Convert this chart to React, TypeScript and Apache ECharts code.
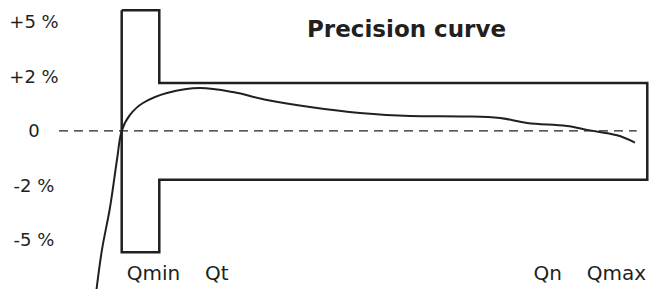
import React, { useEffect, useRef } from "react";
import * as echarts from "echarts";

// Axis ticks (y uses display levels: each level is one labelled step)
const yTickLevels = [-2, -1, 0, 1, 2];
const yTickLabels = ["-5 %", "-2 %", "0", "+2 %", "+5 %"];
const xTickValues = [16.0, 26.7, 82.7, 94.3];
const xTickLabels = ["Qmin", "Qt", "Qn", "Qmax"];

// Tolerance envelope (flow units, display levels)
const envelopeX = [10.61, 16.97, 16.97, 99.54, 99.54, 16.97, 16.97, 10.61, 10.61];
const envelopeLevel = [2.21, 2.21, 0.877, 0.877, -0.895, -0.895, -2.228, -2.228, 2.21];

// Zero reference line
const zeroX = [0, 97.75];
const zeroLevel = [0, 0];

// Precision curve
const curveX = [6.3, 7.28, 8.63, 9.86, 10.61, 12.01, 14.21, 18.27, 23.86, 29.44, 35.19, 42.47, 50.93, 59.39, 69.04, 74.62, 79.19, 85.96, 89.34, 94.42, 97.46];
const curveLevel = [-2.95, -2.174, -1.406, -0.493, 0, 0.292, 0.511, 0.694, 0.785, 0.712, 0.566, 0.438, 0.329, 0.274, 0.265, 0.237, 0.146, 0.091, 0.018, -0.082, -0.214];

const INK = "#231f20";
const FONT = "DejaVu Sans";

const zip = (xs: number[], ys: number[]) => xs.map((x, i) => [x, ys[i]]);

export default function App() {
  const ref = useRef<HTMLDivElement>(null);
  useEffect(() => {
    if (!ref.current) return;
    const chart = echarts.init(ref.current, undefined, { renderer: "svg" });
    chart.setOption({
      animation: false,
      backgroundColor: "#ffffff",
      title: {
        text: "Precision curve",
        left: 307,
        top: 17,
        padding: 0,
        textStyle: { fontFamily: FONT, fontSize: 23, fontWeight: "bold", color: INK },
      },
      grid: { left: 59, right: 0, top: 0, height: 290.2 },
      xAxis: {
        type: "value",
        min: 0,
        max: 100,
        axisLine: { show: false },
        axisTick: { show: false },
        splitLine: { show: false },
        axisLabel: {
          customValues: xTickValues,
          inside: true,
          margin: 6,
          fontFamily: FONT,
          fontSize: 20,
          color: INK,
          formatter: (v: number) => {
            const i = xTickValues.findIndex((t) => Math.abs(t - v) < 1e-6);
            return i >= 0 ? xTickLabels[i] : "";
          },
        },
      },
      yAxis: {
        type: "value",
        min: -2.9,
        max: 2.4,
        axisLine: { show: false },
        axisTick: { show: false },
        splitLine: { show: false },
        axisLabel: {
          customValues: yTickLevels,
          align: "center",
          margin: 25,
          fontFamily: FONT,
          fontSize: 18,
          color: INK,
          formatter: (v: number) => {
            const i = yTickLevels.findIndex((t) => Math.abs(t - v) < 1e-6);
            return i >= 0 ? yTickLabels[i] : "";
          },
        },
      },
      series: [
        {
          type: "line",
          name: "envelope",
          data: zip(envelopeX, envelopeLevel),
          symbol: "none",
          lineStyle: { color: INK, width: 2.5, join: "miter" },
        },
        {
          type: "line",
          name: "zero",
          data: zip(zeroX, zeroLevel),
          symbol: "none",
          lineStyle: { color: INK, width: 1.2, type: [9, 6] },
        },
        {
          type: "line",
          name: "curve",
          data: zip(curveX, curveLevel),
          symbol: "none",
          smooth: 0.35,
          lineStyle: { color: INK, width: 2 },
        },
      ],
    });
    return () => chart.dispose();
  }, []);
  return (
    <div
      ref={ref}
      style={{ position: "absolute", left: 0, top: 0, width: 650, height: 289 }}
    />
  );
}
